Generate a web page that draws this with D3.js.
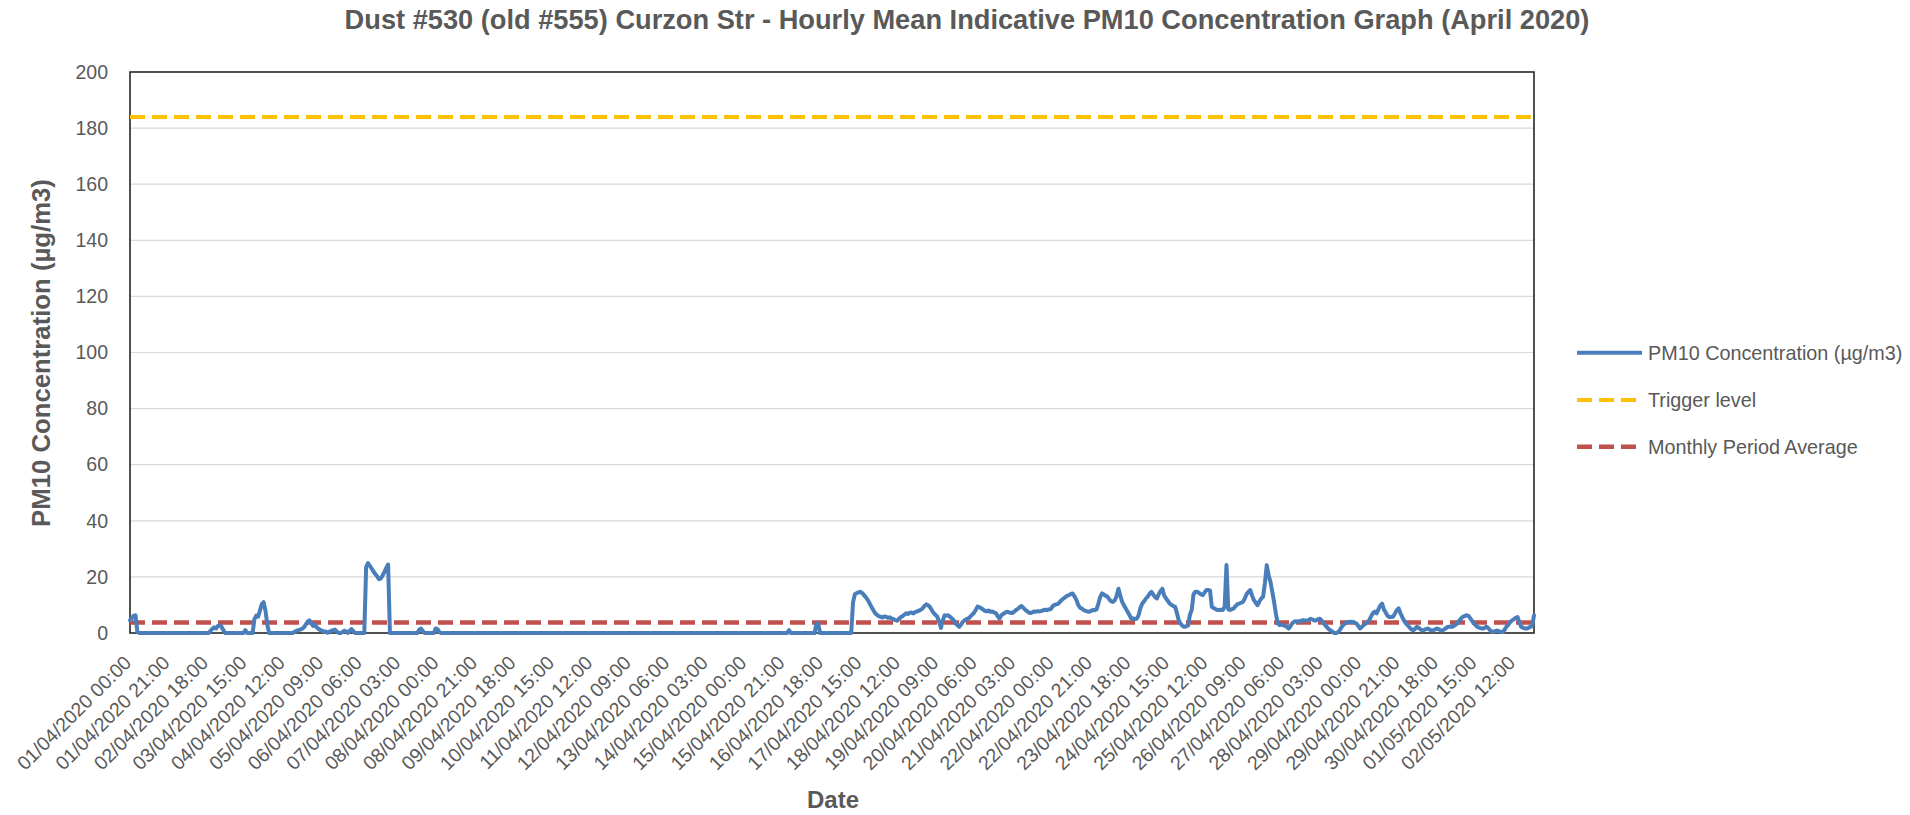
<!DOCTYPE html>
<html><head><meta charset="utf-8">
<script src="https://cdn.jsdelivr.net/npm/d3@7"></script>
<style>
body{margin:0;background:#fff;}
svg{display:block;font-family:"Liberation Sans",Arial,sans-serif;}
</style>
</head><body>
<svg id="chart" width="1910" height="815"></svg>
<script>
// Hourly PM10 values (µg/m3), one row per day, starting 01/04/2020 00:00
const week1 = [
  4.5,5.2,6.2,6.3,0.5,0,0,0,0,0,0,0,0,0,0,0,0,0,0,0,0,0,0,0,
  0,0,0,0,0,0,0,0,0,0,0,0,0,0,0,0,0,0,0,0,0.8,1.5,2.0,1.6,
  2.5,2.8,2.2,1.0,0,0,0,0,0,0,0,0,0,0,0,1.0,0,0,0,0,5.0,6.2,5.8,8.0,
  10.3,11.0,8.0,3.0,0,0,0,0,0,0,0,0,0,0,0,0,0,0,0.5,0.8,1.0,1.2,1.5,2.0,
  3.0,4.0,4.5,3.5,2.5,3.0,2.0,1.5,1.0,0.8,0.5,0.5,0,0.5,0.8,1.0,1.2,0.5,0,0,0.3,0.8,0.6,0,
  0.8,1.4,0.6,0,0,0,0,0,0,23.5,24.9,24.0,23.0,22.0,21.0,20.2,19.2,19.4,20.5,21.8,23.2,24.4,0,0,
  0,0,0,0,0,0,0,0,0,0,0,0,0,0,1.2,1.6,0.6,0,0,0,0,0,0,1.6
];
const week2 = [
  1.4,0.3,0,0,0,0,0,0,0,0,0,0,0,0,0,0,0,0,0,0,0,0,0,0,
  0,0,0,0,0,0,0,0,0,0,0,0,0,0,0,0,0,0,0,0,0,0,0,0,
  0,0,0,0,0,0,0,0,0,0,0,0,0,0,0,0,0,0,0,0,0,0,0,0,
  0,0,0,0,0,0,0,0,0,0,0,0,0,0,0,0,0,0,0,0,0,0,0,0,
  0,0,0,0,0,0,0,0,0,0,0,0,0,0,0,0,0,0,0,0,0,0,0,0,
  0,0,0,0,0,0,0,0,0,0,0,0,0,0,0,0,0,0,0,0,0,0,0,0,
  0,0,0,0,0,0,0,0,0,0,0,0,0,0,0,0,0,0,0,0,0,0,0,0
];
const week3 = [
  0,0,0,0,0,0,0,0,0,0,0,0,0,0,0,0,0,0,0,0,0,0,0,0,
  1.0,0,0,0,0,0,0,0,0,0,0,0,0,0,0,3.4,3.2,0,0,0,0,0,0,0,
  0,0,0,0,0,0,0,0,0,0,0,11.0,13.8,14.2,14.5,14.7,14.2,13.5,12.7,11.8,10.6,9.4,8.2,7.1,
  6.5,6.0,5.8,5.5,5.9,5.8,5.4,5.6,5.2,5.0,4.6,4.4,5.0,5.6,6.0,6.5,7.0,6.8,7.2,7.3,7.0,7.5,7.7,8.0,
  8.3,8.8,9.6,10.2,9.9,9.3,8.2,7.1,6.5,5.8,4.0,1.8,4.5,6.3,6.2,6.3,5.8,5.2,4.5,3.4,2.8,2.2,3.0,4.0,
  4.5,5.0,5.2,5.8,6.5,7.1,8.2,9.4,9.2,8.8,8.4,7.9,7.7,8.0,7.6,7.7,7.3,7.1,6.0,5.2,6.3,6.8,7.2,7.6,
  7.4,7.2,7.1,7.6,8.2,8.6,9.2,9.6,9.0,8.3,7.8,7.3,7.1,7.4,7.7,7.6,7.8,7.7,7.9,8.1,8.3,8.2,8.4,8.5
];
const week4 = [
  9.5,10.0,10.2,10.4,11.1,11.8,12.3,12.8,13.3,13.5,13.9,14.1,13.0,11.8,10.0,9.0,8.7,8.2,7.9,7.7,7.6,7.9,8.2,8.1,
  8.4,10.4,12.8,14.1,13.7,13.3,12.9,12.0,11.3,11.1,11.7,13.3,15.8,13.3,11.1,9.9,8.7,7.6,6.4,5.1,5.2,5.0,5.1,6.4,
  8.9,10.5,11.3,12.3,13.0,14.0,14.7,13.6,12.8,12.3,13.8,15.0,15.8,13.3,12.3,11.4,10.5,10.0,9.6,9.3,6.9,4.4,3.3,2.5,
  2.2,2.4,2.6,6.4,8.2,13.8,14.7,14.7,14.3,13.8,13.5,14.4,15.3,15.3,15.2,9.3,8.9,8.5,8.2,8.2,8.3,8.2,9.3,24.2,
  8.4,8.2,8.5,8.8,9.6,10.3,10.5,10.8,11.1,12.3,13.8,14.7,15.3,13.3,11.7,10.8,9.9,11.3,12.3,12.9,17.8,24.2,20.7,18.3,
  14.8,11.1,6.9,3.4,2.8,3.0,2.8,2.5,2.2,1.6,2.5,3.5,4.0,4.2,4.0,4.2,4.4,4.6,4.4,4.5,4.6,5.1,4.8,4.5,
  4.5,4.9,5.1,4.4,3.5,2.8,2.0,1.3,0.9,0.4,0,0,0.3,1.2,2.2,3.0,3.5,3.9,3.9,4.0,3.9,3.7,3.4,2.5
];
const week5 = [
  1.6,2.2,2.8,3.4,4.0,4.5,5.9,7.1,7.6,7.0,8.4,9.8,10.5,8.4,7.3,6.1,5.7,5.7,5.8,6.9,8.1,8.8,7.1,5.7,
  4.4,3.4,2.8,2.0,1.3,0.9,1.5,2.2,1.8,1.3,0.9,1.1,1.4,1.6,1.2,0.9,1.0,1.3,1.6,1.3,1.0,0.9,1.3,1.8,
  2.2,2.2,2.2,2.4,2.9,3.4,4.2,5.1,5.7,6.0,6.3,6.2,5.4,4.5,3.5,2.8,2.2,1.9,1.7,1.6,1.8,2.2,1.8,1.0,
  0.4,0.5,0.7,0.9,0.6,0.4,0.4,1.2,2.3,3.0,3.9,4.5,4.9,5.4,5.7,3.9,2.2,1.9,1.6,1.6,1.8,2.2,2.5,6.3
];

const tickLabels = [
  "01/04/2020 00:00","01/04/2020 21:00","02/04/2020 18:00","03/04/2020 15:00","04/04/2020 12:00",
  "05/04/2020 09:00","06/04/2020 06:00","07/04/2020 03:00","08/04/2020 00:00","08/04/2020 21:00",
  "09/04/2020 18:00","10/04/2020 15:00","11/04/2020 12:00","12/04/2020 09:00","13/04/2020 06:00",
  "14/04/2020 03:00","15/04/2020 00:00","15/04/2020 21:00","16/04/2020 18:00","17/04/2020 15:00",
  "18/04/2020 12:00","19/04/2020 09:00","20/04/2020 06:00","21/04/2020 03:00","22/04/2020 00:00",
  "22/04/2020 21:00","23/04/2020 18:00","24/04/2020 15:00","25/04/2020 12:00","26/04/2020 09:00",
  "27/04/2020 06:00","28/04/2020 03:00","29/04/2020 00:00","29/04/2020 21:00","30/04/2020 18:00",
  "01/05/2020 15:00","02/05/2020 12:00"
];
const tickInterval = 21; // hours between labels
const yTicks = [0,20,40,60,80,100,120,140,160,180,200];
const triggerLevel = 184;
const monthlyAverage = 3.7;
const seriesNames = ["PM10 Concentration (µg/m3)","Trigger level","Monthly Period Average"];
const titleText = "Dust #530 (old #555) Curzon Str - Hourly Mean Indicative PM10 Concentration Graph (April 2020)";

const pm10 = [].concat(week1, week2, week3, week4, week5);

const TEXT = "#595959";
const BLUE = "#4A7EBB", YELLOW = "#FFC000", RED = "#C0504D";
const plot = {left:130, right:1534, top:72, bottom:633};

const svg = d3.select("#chart");
const x = d3.scaleLinear().domain([0, pm10.length - 1]).range([plot.left, plot.right]);
const y = d3.scaleLinear().domain([0, 200]).range([plot.bottom, plot.top]);

// gridlines
svg.append("g").selectAll("line").data(yTicks.filter(v => v > 0 && v < 200)).join("line")
  .attr("x1", plot.left).attr("x2", plot.right)
  .attr("y1", d => y(d)).attr("y2", d => y(d))
  .attr("stroke", "#d9d9d9").attr("stroke-width", 1.2);

// plot border / axes
svg.append("rect").attr("x", plot.left).attr("y", plot.top)
  .attr("width", plot.right - plot.left).attr("height", plot.bottom - plot.top)
  .attr("fill", "none").attr("stroke", "#262626").attr("stroke-width", 1.6);

// y axis labels
const yAxis = svg.append("g").attr("transform", `translate(${plot.left},0)`)
  .call(d3.axisLeft(y).tickValues(yTicks).tickSize(0).tickPadding(22));
yAxis.select(".domain").remove();
yAxis.selectAll("text").attr("fill", TEXT).style("font-size", "19.5px")
  .style("font-family", '"Liberation Sans", Arial, sans-serif');

// x axis labels
const xTickVals = tickLabels.map((_, i) => i * tickInterval);
const xAxis = svg.append("g").attr("transform", `translate(0,${plot.bottom})`)
  .call(d3.axisBottom(x).tickValues(xTickVals).tickSize(0).tickFormat((d, i) => tickLabels[i]));
xAxis.select(".domain").remove();
xAxis.selectAll("text")
  .attr("fill", TEXT).style("font-size", "19.5px")
  .style("font-family", '"Liberation Sans", Arial, sans-serif')
  .attr("text-anchor", "end").attr("y", 0).attr("dy", 0)
  .attr("transform", "translate(2,31) rotate(-45)");

// reference lines
svg.append("line").attr("x1", plot.left).attr("x2", plot.right)
  .attr("y1", y(triggerLevel)).attr("y2", y(triggerLevel))
  .attr("stroke", YELLOW).attr("stroke-width", 4).attr("stroke-dasharray", "15,7");
svg.append("line").attr("x1", plot.left).attr("x2", plot.right)
  .attr("y1", y(monthlyAverage)).attr("y2", y(monthlyAverage))
  .attr("stroke", RED).attr("stroke-width", 4.5).attr("stroke-dasharray", "15,7");

// data line
const line = d3.line().x((d, i) => x(i)).y(d => y(d));
svg.append("path").datum(pm10).attr("d", line)
  .attr("fill", "none").attr("stroke", BLUE).attr("stroke-width", 4)
  .attr("stroke-linejoin", "round").attr("stroke-linecap", "round");

// title
const title = svg.append("text").text(titleText)
  .attr("x", 967).attr("y", 29).attr("text-anchor", "middle")
  .attr("fill", TEXT).style("font-weight", "bold").style("font-size", "22px");
let tl = title.node().getComputedTextLength();
title.style("font-size", (22 * 1245 / tl).toFixed(2) + "px");

// axis titles
const yt = svg.append("text").text("PM10 Concentration (µg/m3)")
  .attr("transform", "translate(50,353) rotate(-90)").attr("text-anchor", "middle")
  .attr("fill", TEXT).style("font-weight", "bold").style("font-size", "25px");
let ytl = yt.node().getComputedTextLength();
yt.style("font-size", (25 * 348 / ytl).toFixed(2) + "px");

svg.append("text").text("Date").attr("x", 833).attr("y", 808).attr("text-anchor", "middle")
  .attr("fill", TEXT).style("font-weight", "bold").style("font-size", "24px");

// legend
const legendY = [352.7, 400, 446.7];
const legendStyles = [
  {color: BLUE, dash: null, w: 4},
  {color: YELLOW, dash: "15,7", w: 4},
  {color: RED, dash: "15,7", w: 4.5}
];
const lg = svg.append("g").selectAll("g").data(seriesNames).join("g")
  .attr("transform", (d, i) => `translate(0,${legendY[i]})`);
lg.append("line").attr("x1", 1577).attr("x2", 1642).attr("y1", 0).attr("y2", 0)
  .attr("stroke", (d, i) => legendStyles[i].color)
  .attr("stroke-width", (d, i) => legendStyles[i].w)
  .attr("stroke-dasharray", (d, i) => legendStyles[i].dash);
lg.append("text").text(d => d).attr("x", 1648).attr("y", 0).attr("dy", "0.35em")
  .attr("fill", TEXT).style("font-size", "19.8px");
</script>
</body></html>
